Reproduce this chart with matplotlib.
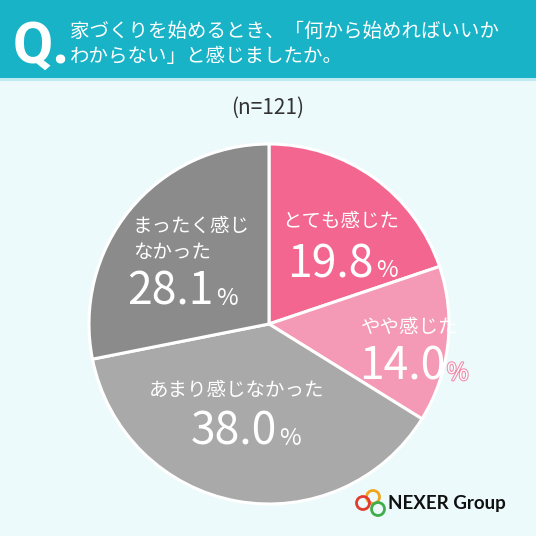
import matplotlib
matplotlib.use("Agg")
import matplotlib.pyplot as plt
import matplotlib.patheffects as pe
from matplotlib.patches import Circle, Rectangle

plt.rcParams['font.family'] = ['Noto Sans CJK JP', 'DejaVu Sans']

# data
labels = ['とても感じた', 'やや感じた', 'あまり感じなかった', 'まったく感じ\nなかった']
values = [19.8, 14.0, 38.0, 28.1]
colors = ['#f2668f', '#f59ab6', '#a9a9a9', '#8b8b8b']
n_total = 121
title_lines = ['家づくりを始めるとき、「何から始めればいいか', 'わからない」と感じましたか。']

W = H = 536
fig = plt.figure(figsize=(W / 100, H / 100), dpi=100)
fig.patch.set_facecolor('#edfafc')

def fx(x):
    return x / W

def fy(y):
    return 1 - y / H

# header band
fig.add_artist(Rectangle((0, fy(78)), 1, 78 / H, transform=fig.transFigure,
                         facecolor='#18b3c7', edgecolor='none'))
fig.add_artist(Rectangle((0, fy(81)), 1, 3 / H, transform=fig.transFigure,
                         facecolor='#bdeaf0', edgecolor='none'))
fig.text(fx(13), fy(63), 'Q.', color='white', fontsize=42, fontweight='bold',
         ha='left', va='baseline', family='Roboto')
fig.text(fx(70), fy(31), title_lines[0], color='white', fontsize=14, ha='left', va='center')
fig.text(fx(70), fy(57), title_lines[1], color='white', fontsize=14, ha='left', va='center')

fig.text(fx(268), fy(108), f'(n={n_total})', color='#333333', fontsize=15,
         ha='center', va='center')

# pie
cx, cy, r = 269, 324, 180
ax = fig.add_axes([fx(cx - r), fy(cy + r), 2 * r / W, 2 * r / H])
ax.pie(values, colors=colors, startangle=90, counterclock=False, radius=1,
       wedgeprops=dict(edgecolor='white', linewidth=2.2))
ax.set_xlim(-1, 1)
ax.set_ylim(-1, 1)
ax.set_aspect('equal')
ax.axis('off')

# label layout: (name x, name y, name ha, split x, baseline y)
layout = [
    (0.40, 0.567, 'center', 0.583, 0.261),
    (0.783, -0.017, 'center', 0.978, -0.311),
    (-0.178, -0.367, 'center', 0.044, -0.672),
    (-0.756, 0.47, 'left', -0.306, 0.106),
]
for i, (lab, val) in enumerate(zip(labels, values)):
    lx, ly, lha, sx, by = layout[i]
    ax.text(lx, ly, lab, color='white', fontsize=14, ha=lha, va='center',
            linespacing=1.3, clip_on=False)
    t1 = ax.text(sx, by, f'{val:.1f}', color='white', fontsize=32, ha='right',
                 va='baseline', clip_on=False)
    t2 = ax.text(sx + 0.01, by, '%', color='white', fontsize=17, ha='left',
                 va='baseline', clip_on=False)
    if i == 1:
        t2.set_path_effects([pe.withStroke(linewidth=1.5, foreground='#f08aa8')])

# logo
for (x, y, c) in [(373, 497, '#f2a51c'), (363, 503, '#e23c2e'), (378, 509, '#3fae49')]:
    fig.add_artist(Circle((fx(x), fy(y)), 6.5 / W, transform=fig.transFigure,
                          facecolor='none', edgecolor=c, linewidth=2))
fig.text(fx(388), fy(504), 'NEXER Group', color='#111111', fontsize=13.5, fontweight='bold',
         ha='left', va='center', family='Lato')

fig.savefig('out.png', dpi=100, facecolor=fig.get_facecolor())
